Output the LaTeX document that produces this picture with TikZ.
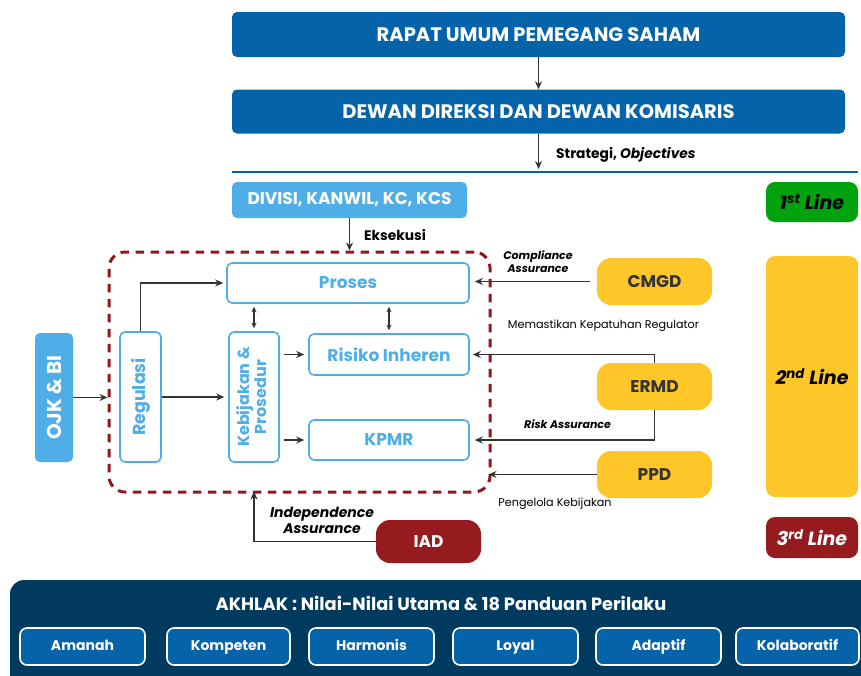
\documentclass[tikz,border=0pt]{standalone}
\usepackage{fontspec}
\setmainfont{Poppins}
\usetikzlibrary{arrows.meta}
\definecolor{dkblue}{HTML}{0563AA}
\definecolor{ltblue}{HTML}{4FAEE8}
\definecolor{yel}{HTML}{FFC629}
\definecolor{dkred}{HTML}{951B1F}
\definecolor{grn}{HTML}{00A30E}
\definecolor{navy}{HTML}{003A5E}
\definecolor{txt}{HTML}{333333}
\definecolor{zonered}{HTML}{8E1A1E}
\tikzset{
  hbox/.style={fill=dkblue, text=white, rounded corners=5, font=\fontsize{19.5}{22}\selectfont\bfseries, inner sep=0},
  lbox/.style={fill=ltblue, text=white, rounded corners=5, font=\fontsize{17}{20}\selectfont\bfseries, inner sep=0},
  wbox/.style={fill=white, draw=ltblue, line width=1.6, text=ltblue, rounded corners=5, font=\fontsize{17}{19}\selectfont\bfseries, inner sep=0},
  ybox/.style={fill=yel, text=txt, rounded corners=14, font=\fontsize{17}{20}\selectfont\bfseries, inner sep=0},
  linebox/.style={rounded corners=9, font=\fontsize{19}{22}\selectfont\bfseries\itshape, inner sep=0},
  vbox/.style={fill=dkblue, draw=white, line width=1.6, text=white, rounded corners=7, font=\fontsize{14}{16}\selectfont\bfseries, inner sep=0, minimum width=125, minimum height=37, text height=10.5, text depth=3.5},
  arr/.style={draw=txt, line width=1.5, -{Stealth[length=8pt,width=7pt]}},
  darr/.style={draw=txt, line width=1.3, {Stealth[length=5.5pt,width=5pt]}-{Stealth[length=5.5pt,width=5pt]}},
  lab/.style={text=black, inner sep=0, font=\fontsize{13.8}{16}\selectfont\bfseries},
  ilab/.style={text=black, inner sep=0, font=\fontsize{11}{13}\selectfont\bfseries\itshape, align=center},
  slab/.style={text=black, inner sep=0, font=\fontsize{11.2}{13}\selectfont},
}
\begin{document}
\begin{tikzpicture}[x=1pt,y=-1pt]
\clip (0,0) rectangle (861,675);
\fill[white] (0,0) rectangle (861,675);

% top boxes
\node[hbox, minimum width=613, minimum height=45] (rups) at (538.5,34.5) {RAPAT UMUM PEMEGANG SAHAM};
\node[hbox, minimum width=613, minimum height=44] (dewan) at (538.5,111.5) {DEWAN DIREKSI DAN DEWAN KOMISARIS};
\draw[arr] (rups.south) -- (dewan.north);
\coordinate (lineL) at (232,172);
\coordinate (lineR) at (858,172);
\draw[dkblue, line width=2] (lineL) -- (lineR);
\draw[arr, shorten >=3] (dewan.south) -- (dewan.south |- lineL);
\node[lab, anchor=west] (strat) at (556,155) {Strategi, \textit{Objectives}};

% divisi
\node[lbox, minimum width=235, minimum height=36] (divisi) at (349.5,200) {DIVISI, KANWIL, KC, KCS};
\node[lab, anchor=west] (eks) at (364,235) {Eksekusi};

% dashed zone
\node[draw=zonered, line width=3, dash pattern=on 8.5pt off 6.5pt, rounded corners=16, minimum width=381, minimum height=240, inner sep=0] (zone) at (299.5,372) {};
\draw[arr] (divisi.south) -- (divisi.south |- zone.north);

% inner boxes
\node[wbox, minimum width=242, minimum height=40] (proses) at (348,283) {Proses};
\node[wbox, minimum width=41, minimum height=130, font=\fontsize{17.5}{19}\selectfont\bfseries] (reg) at (140.5,397) {\rotatebox{90}{Regulasi}};
\node[wbox, minimum width=50, minimum height=130, font=\fontsize{16}{18}\selectfont\bfseries] (keb) at (254,397) {\rotatebox{90}{\begin{tabular}{@{}c@{}}Kebijakan \&\\[-1pt]Prosedur\end{tabular}}};
\node[wbox, minimum width=160, minimum height=41] (risiko) at (389,354.5) {Risiko Inheren};
\node[wbox, minimum width=160, minimum height=40] (kpmr) at (389,440) {KPMR};

\node[lbox, minimum width=38, minimum height=129, font=\fontsize{20}{22}\selectfont\bfseries] (ojk) at (54,397.5) {\rotatebox{90}{OJK \& BI}};

\draw[arr] (ojk.east) -- (ojk.east -| zone.west);
\draw[arr, shorten >=3] (reg.north) |- (proses.west);
\draw[arr, shorten >=4] (reg.east) -- (reg.east -| keb.west);
\draw[darr, shorten >=3, shorten <=3] (keb.north) -- (keb.north |- proses.south);
\draw[darr, shorten >=3, shorten <=3] (risiko.north) -- (risiko.north |- proses.south);
\draw[arr, shorten >=4, shorten <=4] (keb.east |- risiko.west) -- (risiko.west);
\draw[arr, shorten >=4, shorten <=4] (keb.east |- kpmr.west) -- (kpmr.west);

% second line units
\node[ybox, minimum width=115, minimum height=47] (cmgd) at (654.5,281.5) {CMGD};
\node[ybox, minimum width=115, minimum height=47] (ermd) at (654.5,386.5) {ERMD};
\node[ybox, minimum width=115, minimum height=47] (ppd) at (654.5,474.5) {PPD};

\draw[arr, shorten >=5, shorten <=7] (cmgd.west) -- (cmgd.west -| proses.east);
\node[ilab] (comp) at (538,262) {Compliance\\Assurance};
\node[slab] (mem) at (603.5,325.5) {Memastikan Kepatuhan Regulator};
\draw[arr, shorten >=3] (ermd.north) |- (risiko.east);
\draw[arr, shorten >=5] (ermd.south) |- (kpmr.east);
\node[ilab] (risk) at (567.5,424) {Risk Assurance};
\draw[arr, shorten >=-3] (ppd.west) -- (ppd.west -| zone.east);
\node[slab] (peng) at (555,503.5) {Pengelola Kebijakan};

% IAD
\node[ybox, fill=dkred, text=white, minimum width=105, minimum height=43] (iad) at (428.5,541.5) {IAD};
\draw[arr, shorten >=-2] (iad.west) -| (zone.south -| keb.south);
\node[ilab, font=\fontsize{14}{16}\selectfont\bfseries\itshape] (indep) at (322,520) {Independence\\Assurance};

% lines of defence
\node[linebox, fill=grn, text=black, minimum width=92, minimum height=40] (l1) at (812,202) {1\textsuperscript{st} Line};
\node[linebox, fill=yel, text=black, minimum width=92, minimum height=241] (l2) at (812,376.5) {2\textsuperscript{nd} Line};
\node[linebox, fill=dkred, text=white, minimum width=92, minimum height=41] (l3) at (812,537.5) {3\textsuperscript{rd} Line};

% bottom panel
\node[fill=navy, rounded corners=14, minimum width=880, minimum height=130, inner sep=0] (panel) at (450,645) {};
\node[text=white, font=\fontsize{17.8}{20}\selectfont\bfseries, inner sep=0] (akh) at (441,603) {AKHLAK : Nilai-Nilai Utama \& 18 Panduan Perilaku};
\node[vbox] (v1) at (82.5,646.5) {Amanah};
\node[vbox, minimum width=123] (v2) at (228.5,646.5) {Kompeten};
\node[vbox] (v3) at (371.5,646.5) {Harmonis};
\node[vbox] (v4) at (515.5,646.5) {Loyal};
\node[vbox] (v5) at (658.5,646.5) {Adaptif};
\node[vbox, minimum width=123] (v6) at (797.5,646.5) {Kolaboratif};
\end{tikzpicture}
\end{document}
